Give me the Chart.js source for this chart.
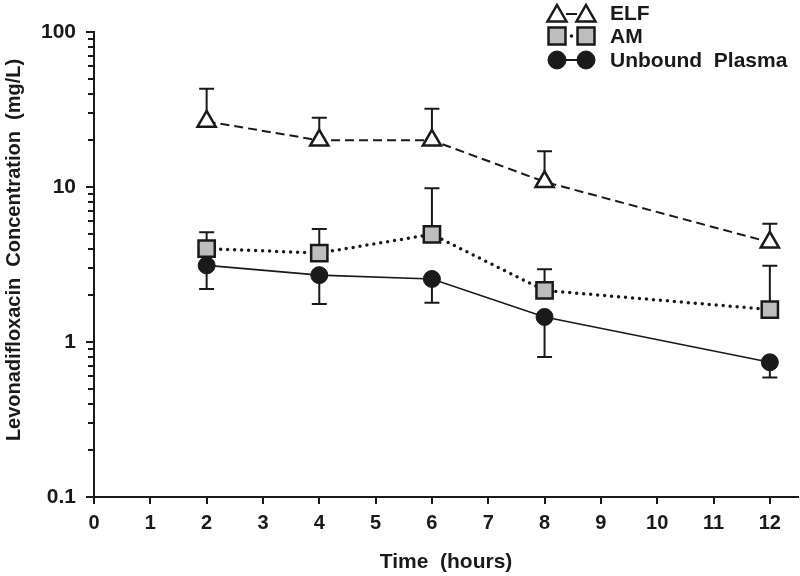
<!DOCTYPE html>
<html lang="en">
<head>
    <meta charset="UTF-8">
    <title>Levonadifloxacin concentration</title>
    <script src="https://cdn.jsdelivr.net/npm/chart.js"></script>
    <style>
        body { margin: 0; background: #fff; }
        #wrap { width: 800px; height: 576px; }
    </style>
</head>
<body>
    <div id="wrap"><canvas id="myChart" width="800" height="576"></canvas></div>
    <script>
        // data
        const hours = [2, 4, 6, 8, 12];
        const elf = [26.5, 20, 20, 10.8, 4.4];
        const elfUpper = [43, 28, 32, 17, 5.8];
        const am = [4.0, 3.75, 4.95, 2.15, 1.62];
        const amUpper = [5.1, 5.35, 9.8, 2.95, 3.1];
        const plasma = [3.12, 2.7, 2.55, 1.45, 0.74];
        const plasmaLower = [2.2, 1.76, 1.79, 0.8, 0.59];

        const xTicks = [0, 1, 2, 3, 4, 5, 6, 7, 8, 9, 10, 11, 12];
        const yMajor = [0.1, 1, 10, 100];
        const seriesNames = ['ELF', 'AM', 'Unbound  Plasma'];

        const FONT = "'Liberation Sans', Arial, sans-serif";
        const INK = '#1a1a1a';

        // minor log ticks 2..9 between the major ones
        const yTicks = [];
        for (let i = 0; i < yMajor.length - 1; i++) {
            for (let m = 1; m < 10; m++) yTicks.push(+(yMajor[i] * m).toPrecision(3));
        }
        yTicks.push(yMajor[yMajor.length - 1]);

        function pts(ys) {
            return hours.map((h, i) => ({ x: h, y: ys[i] }));
        }

        function marker(ctx, style, x, y, r, fill, stroke, lw) {
            ctx.save();
            ctx.beginPath();
            if (style === 'triangle') {
                ctx.moveTo(x, y - r);
                ctx.lineTo(x + r * 0.866, y + r * 0.5);
                ctx.lineTo(x - r * 0.866, y + r * 0.5);
                ctx.closePath();
            } else if (style === 'rect') {
                const s = r * Math.SQRT1_2;
                ctx.rect(x - s, y - s, 2 * s, 2 * s);
            } else {
                ctx.arc(x, y, r, 0, Math.PI * 2);
            }
            ctx.fillStyle = fill;
            ctx.fill();
            ctx.lineWidth = lw;
            ctx.strokeStyle = stroke;
            ctx.stroke();
            ctx.restore();
        }

        const errorBars = {
            id: 'errorBars',
            beforeDatasetsDraw(chart) {
                const ctx = chart.ctx;
                const xs = chart.scales.x, ys = chart.scales.y;
                const ends = [elfUpper, amUpper, plasmaLower];
                const mids = [elf, am, plasma];
                ctx.save();
                ctx.strokeStyle = INK;
                ctx.lineWidth = 2;
                ends.forEach((arr, s) => {
                    arr.forEach((v, i) => {
                        const px = xs.getPixelForValue(hours[i]);
                        const p0 = ys.getPixelForValue(mids[s][i]);
                        const p1 = ys.getPixelForValue(v);
                        ctx.beginPath();
                        ctx.moveTo(px, p0);
                        ctx.lineTo(px, p1);
                        ctx.moveTo(px - 7.5, p1);
                        ctx.lineTo(px + 7.5, p1);
                        ctx.stroke();
                    });
                });
                ctx.restore();
            }
        };

        const extras = {
            id: 'extras',
            afterDraw(chart) {
                const ctx = chart.ctx;
                const ys = chart.scales.y;
                // y tick marks, long for decades, short for the rest
                ctx.save();
                ctx.strokeStyle = INK;
                ctx.lineWidth = 2;
                yTicks.forEach(v => {
                    const py = Math.round(ys.getPixelForValue(v));
                    const len = yMajor.includes(v) ? 8 : 6;
                    ctx.beginPath();
                    ctx.moveTo(ys.right - len, py);
                    ctx.lineTo(ys.right, py);
                    ctx.stroke();
                });

                // y axis title
                ctx.translate(14, 250);
                ctx.rotate(-Math.PI / 2);
                ctx.font = 'bold 20px ' + FONT;
                ctx.fillStyle = INK;
                ctx.textAlign = 'center';
                ctx.textBaseline = 'middle';
                ctx.fillText('Levonadifloxacin  Concentration  (mg/L)', 0, 0);
                ctx.restore();

                // legend
                ctx.save();
                const rows = [13, 36, 60];
                const x1 = 557, x2 = 586;
                ctx.strokeStyle = INK;
                ctx.lineWidth = 2;
                // ELF: short dash between two triangles
                ctx.beginPath(); ctx.moveTo(x1 + 9, rows[0] + 1); ctx.lineTo(x2 - 9, rows[0] + 1); ctx.stroke();
                marker(ctx, 'triangle', x1, rows[0] + 3, 11, '#fff', INK, 2.5);
                marker(ctx, 'triangle', x2, rows[0] + 3, 11, '#fff', INK, 2.5);
                // AM: a dot between two squares
                ctx.fillStyle = INK;
                ctx.beginPath(); ctx.arc((x1 + x2) / 2, rows[1], 1.8, 0, Math.PI * 2); ctx.fill();
                marker(ctx, 'rect', x1, rows[1], 12, '#bdbdbd', INK, 2.5);
                marker(ctx, 'rect', x2, rows[1], 12, '#bdbdbd', INK, 2.5);
                // Plasma: solid line between two circles
                ctx.beginPath(); ctx.moveTo(x1, rows[2]); ctx.lineTo(x2, rows[2]); ctx.stroke();
                marker(ctx, 'circle', x1, rows[2], 9, INK, INK, 1);
                marker(ctx, 'circle', x2, rows[2], 9, INK, INK, 1);

                ctx.font = 'bold 21px ' + FONT;
                ctx.fillStyle = INK;
                ctx.textBaseline = 'middle';
                seriesNames.forEach((n, i) => ctx.fillText(n, 610, rows[i] + 1));
                ctx.restore();
            }
        };

        const ctx = document.getElementById('myChart').getContext('2d');
        new Chart(ctx, {
            type: 'line',
            data: {
                datasets: [{
                    label: seriesNames[0],
                    data: pts(elf),
                    borderColor: INK,
                    borderWidth: 2,
                    borderDash: [9, 5],
                    pointStyle: 'triangle',
                    pointRadius: 10.5,
                    pointBorderWidth: 2.5,
                    pointBackgroundColor: '#fff',
                    pointBorderColor: INK
                }, {
                    label: seriesNames[1],
                    data: pts(am),
                    borderColor: INK,
                    borderWidth: 3.5,
                    borderDash: [0, 7],
                    borderCapStyle: 'round',
                    pointStyle: 'rect',
                    pointRadius: 11.5,
                    pointBorderWidth: 2.5,
                    pointBackgroundColor: '#bdbdbd',
                    pointBorderColor: INK
                }, {
                    label: seriesNames[2],
                    data: pts(plasma),
                    borderColor: INK,
                    borderWidth: 1.6,
                    pointStyle: 'circle',
                    pointRadius: 8.5,
                    pointBorderWidth: 1,
                    pointBackgroundColor: INK,
                    pointBorderColor: INK
                }].reverse()
            },
            options: {
                responsive: false,
                animation: false,
                devicePixelRatio: 1,
                layout: { autoPadding: false, padding: { top: 32, right: 2, left: 0, bottom: 0 } },
                plugins: {
                    legend: { display: false },
                    tooltip: { enabled: false }
                },
                scales: {
                    x: {
                        type: 'linear',
                        min: 0,
                        max: 12.5,
                        afterBuildTicks: s => { s.ticks = xTicks.map(v => ({ value: v })); },
                        afterFit: s => { s.height = 79; s.paddingRight = 0; s.paddingLeft = 0; },
                        grid: { drawOnChartArea: false, tickLength: 7, color: INK, lineWidth: 2 },
                        border: { color: INK, width: 2 },
                        ticks: {
                            padding: 7,
                            color: INK,
                            font: { family: FONT, size: 20, weight: 'bold' }
                        },
                        title: {
                            display: true,
                            text: 'Time  (hours)',
                            color: INK,
                            padding: { top: 0, bottom: 1 },
                            font: { family: FONT, size: 21, weight: 'bold' }
                        }
                    },
                    y: {
                        type: 'logarithmic',
                        min: 0.1,
                        max: 100,
                        afterBuildTicks: s => { s.ticks = yTicks.map(v => ({ value: v })); },
                        afterFit: s => { s.width = 94; },
                        grid: { drawOnChartArea: false, tickLength: 8, color: 'rgba(0,0,0,0)' },
                        border: { color: INK, width: 2 },
                        ticks: {
                            autoSkip: false,
                            padding: 10,
                            color: INK,
                            font: { family: FONT, size: 21, weight: 'bold' },
                            callback: v => yMajor.includes(v) ? String(v) : ''
                        }
                    }
                }
            },
            plugins: [errorBars, extras]
        });
    </script>
</body>
</html>
